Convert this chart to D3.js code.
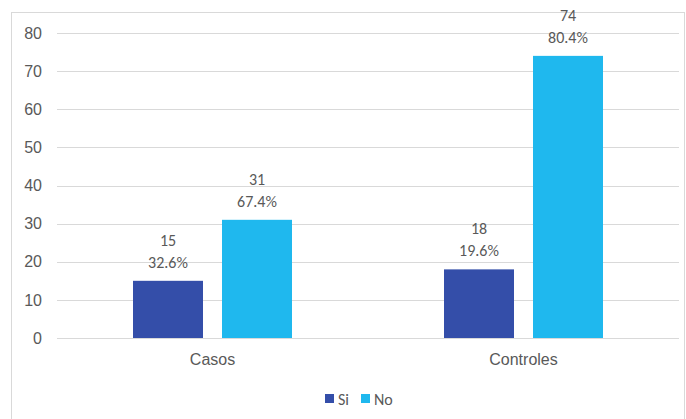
<!DOCTYPE html>
<html>
<head>
<meta charset="utf-8">
<script src="https://cdn.jsdelivr.net/npm/d3@7"></script>
<style>
  html, body { margin: 0; padding: 0; background: #fff; }
  svg { display: block; font-family: Calibri, Carlito, "Liberation Sans", "Open Sans", sans-serif; }
</style>
</head>
<body>
<svg id="chart" width="686" height="419"></svg>
<script>
const categories = ["Casos", "Controles"];
const seriesNames = ["Si", "No"];
const siValues = [15, 18];
const noValues = [31, 74];
const siPercents = ["32.6%", "19.6%"];
const noPercents = ["67.4%", "80.4%"];
const yTicks = [0, 10, 20, 30, 40, 50, 60, 70, 80];
const colors = ["#344EA9", "#1FB8EE"];

const svg = d3.select("#chart");
const W = 686, H = 419;
const margin = { left: 57, right: 7, top: 33, bottom: 81 };
const fontSize = 16;

// outer frame
svg.append("rect")
  .attr("x", 11.5).attr("y", 12.5)
  .attr("width", W - 12 - 1).attr("height", H - 12)
  .attr("fill", "#fff").attr("stroke", "#d9d9d9").attr("stroke-width", 1);

const x0 = d3.scaleBand().domain(categories).range([margin.left, W - margin.right]);
const groupWidth = 159;
const x1 = d3.scaleBand().domain(seriesNames).range([0, groupWidth]).paddingInner(0.2135);
const y = d3.scaleLinear().domain([0, 80]).range([H - margin.bottom, margin.top]);

// gridlines
svg.append("g").selectAll("line").data(yTicks).join("line")
  .attr("x1", margin.left).attr("x2", W - margin.right)
  .attr("y1", d => Math.round(y(d)) + 0.5).attr("y2", d => Math.round(y(d)) + 0.5)
  .attr("stroke", "#d9d9d9").attr("stroke-width", 1);

// y axis labels
const yAxis = d3.axisLeft(y).tickValues(yTicks).tickSize(0).tickPadding(15);
const gy = svg.append("g").attr("transform", `translate(${margin.left},0)`).call(yAxis);
gy.select(".domain").remove();
gy.selectAll("text").attr("fill", "#595959").attr("font-size", fontSize).style("font-family", "inherit");

const rows = categories.map((c, i) => ({
  cat: c,
  bars: [
    { s: "Si", v: siValues[i], p: siPercents[i] },
    { s: "No", v: noValues[i], p: noPercents[i] }
  ]
}));

const groups = svg.append("g").selectAll("g").data(rows).join("g")
  .attr("transform", d => `translate(${x0(d.cat) + x0.bandwidth() / 2 - groupWidth / 2},0)`);

groups.selectAll("rect").data(d => d.bars).join("rect")
  .attr("x", d => x1(d.s))
  .attr("y", d => y(d.v))
  .attr("width", x1.bandwidth())
  .attr("height", d => y(0) - y(d.v))
  .attr("fill", (d, i) => colors[i]);

const lbl = groups.selectAll("text.val").data(d => d.bars).join("text")
  .attr("class", "val")
  .attr("text-anchor", "middle")
  .attr("fill", "#595959")
  .attr("font-size", fontSize);
lbl.append("tspan")
  .attr("x", d => x1(d.s) + x1.bandwidth() / 2)
  .attr("y", d => y(d.v) - 35)
  .text(d => d.v);
lbl.append("tspan")
  .attr("x", d => x1(d.s) + x1.bandwidth() / 2)
  .attr("y", d => y(d.v) - 13)
  .text(d => d.p);

// category labels
const xAxis = d3.axisBottom(x0).tickSize(0).tickPadding(16);
const gx = svg.append("g").attr("transform", `translate(0,${y(0)})`).call(xAxis);
gx.select(".domain").remove();
gx.selectAll("text").attr("fill", "#595959").attr("font-size", fontSize).style("font-family", "inherit");

// legend
const legend = svg.append("g").attr("transform", "translate(325,399)");
const items = legend.selectAll("g").data(seriesNames).join("g")
  .attr("transform", (d, i) => `translate(${i * 36},0)`);
items.append("rect").attr("x", 0).attr("y", -5).attr("width", 9).attr("height", 9)
  .attr("fill", (d, i) => colors[i]);
items.append("text").attr("x", 13).attr("y", 5.5)
  .attr("fill", "#595959").attr("font-size", fontSize).text(d => d);
</script>
</body>
</html>
